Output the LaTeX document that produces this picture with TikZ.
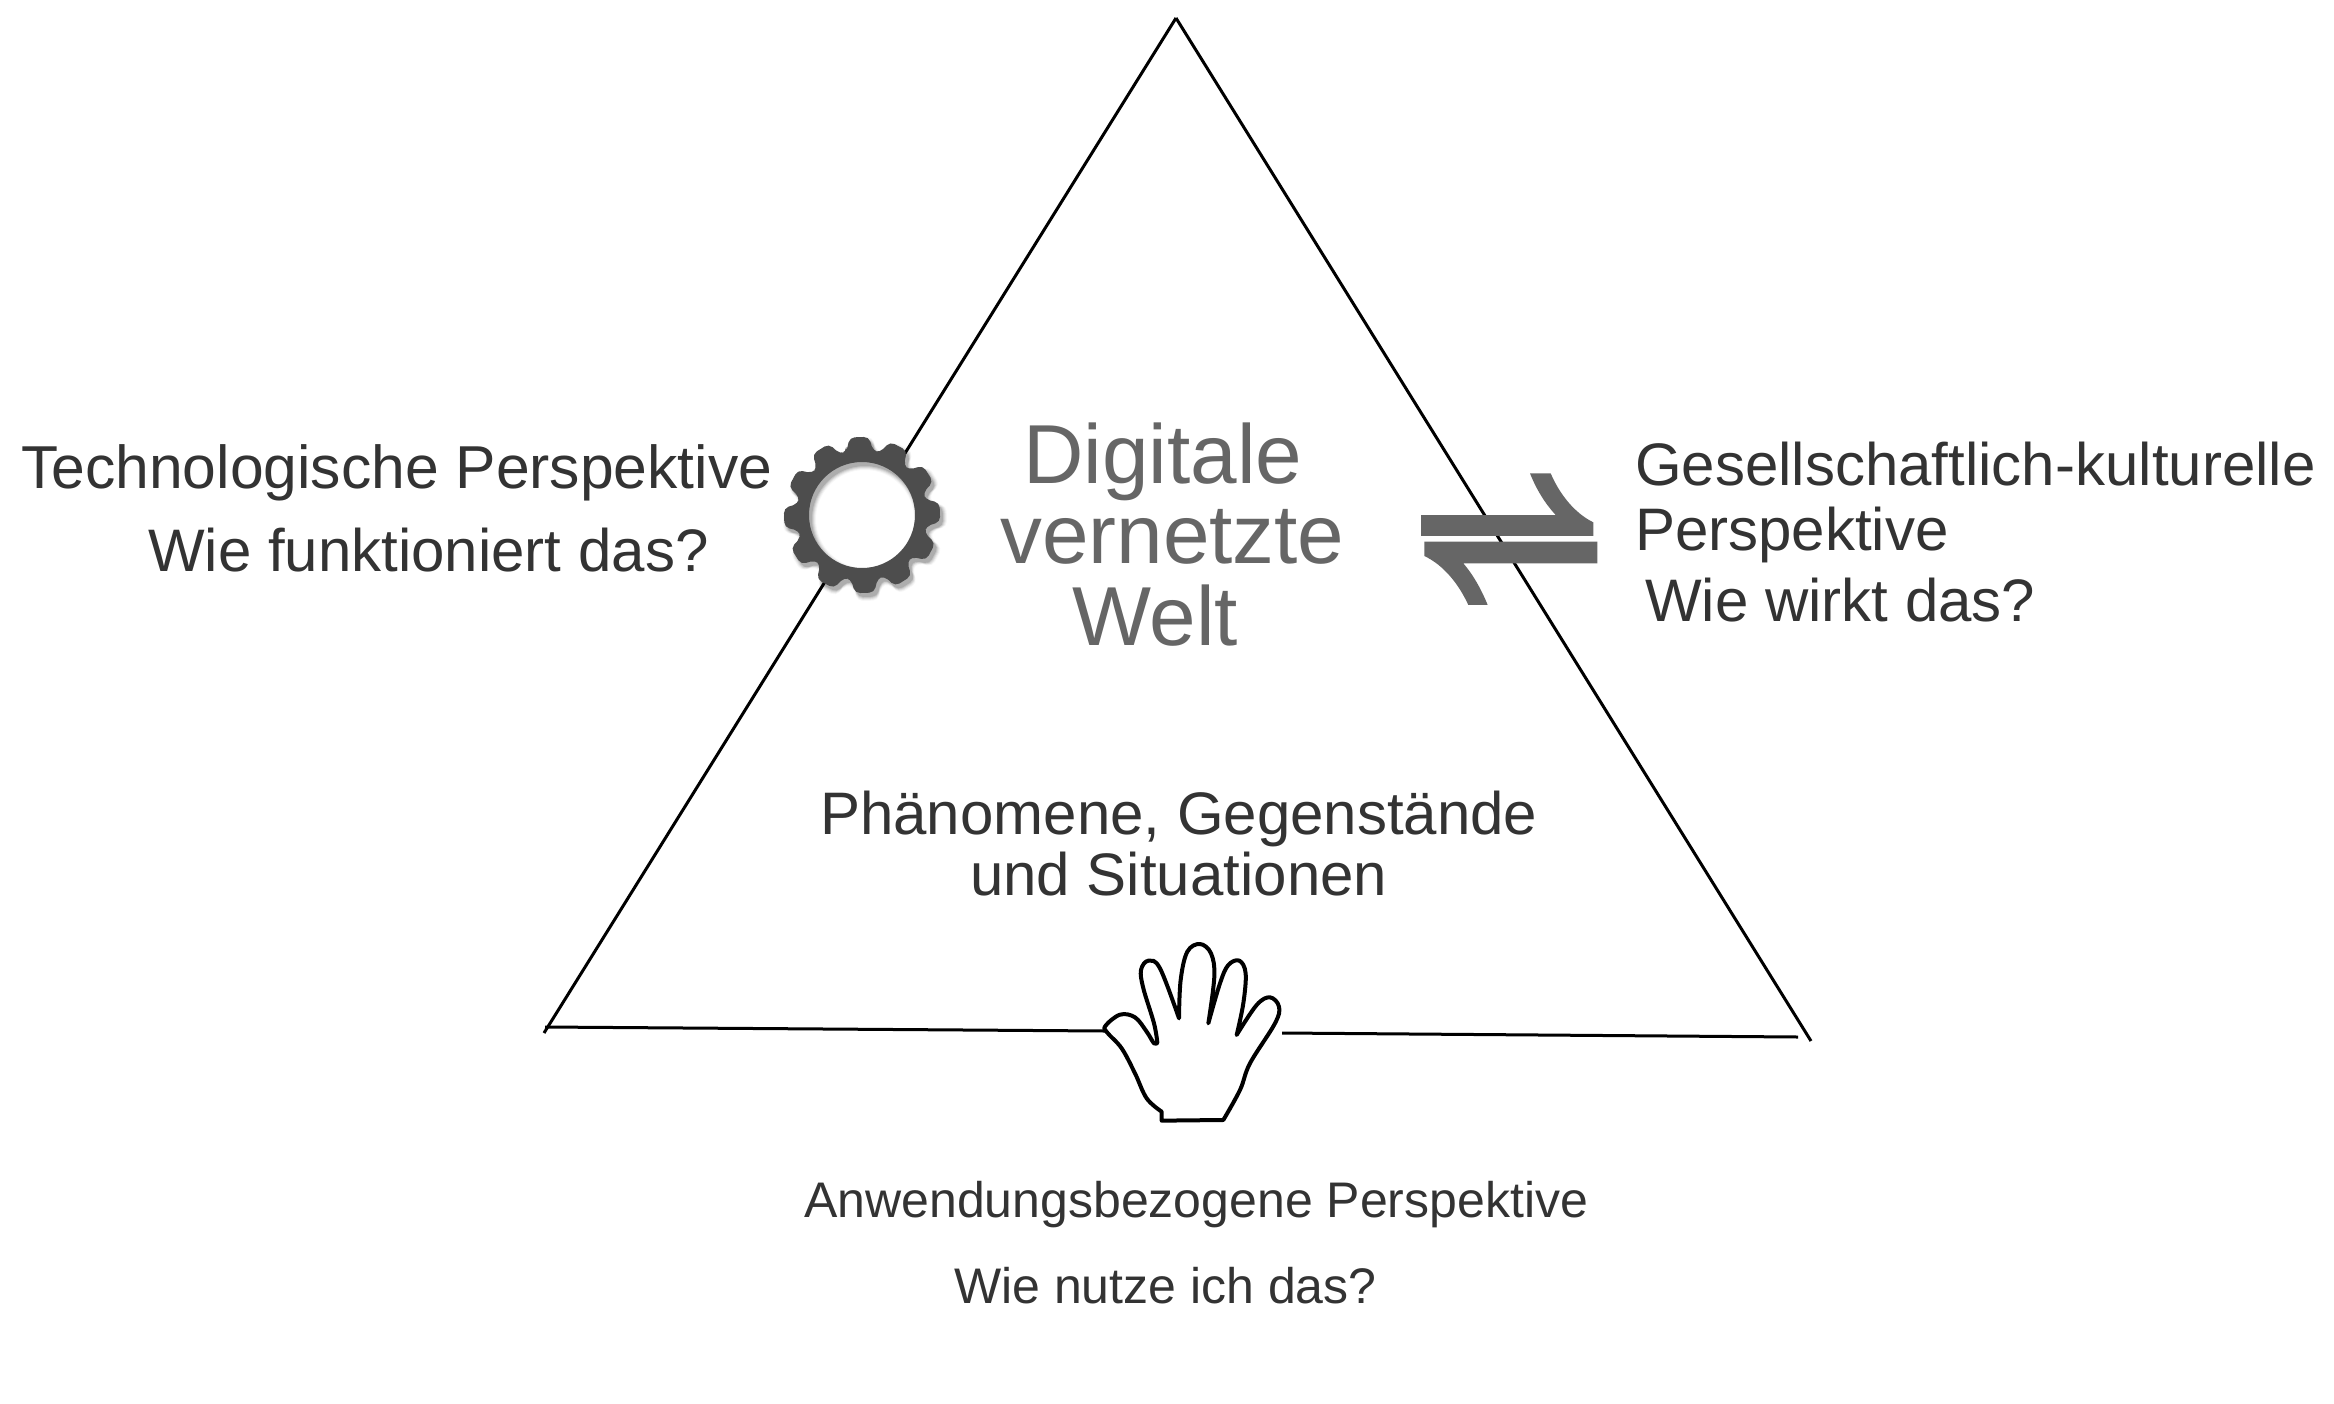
\documentclass[tikz,border=0pt]{standalone}
\usepackage{fontspec}
\setmainfont{Liberation Sans}
\definecolor{txt}{HTML}{333333}
\definecolor{midgray}{HTML}{666666}
\definecolor{geargray}{HTML}{4D4D4D}
\tikzset{
  tri/.style={draw=black,line width=3pt},
  lab/.style={anchor=base west,inner sep=0pt,text=txt,font=\fontsize{60}{60}\selectfont},
  labwide/.style={lab,font=\fontsize{60.6}{60}\selectfont},
  labsmall/.style={lab,font=\fontsize{50}{51}\selectfont},
  big/.style={anchor=base west,inner sep=0pt,text=midgray,font=\fontsize{83.7}{83}\selectfont},
  flowbar/.style={fill=midgray,draw=none},
  handline/.style={draw=black,line width=4pt,fill=white,line join=round},
}
\begin{document}
\begin{tikzpicture}[x=1pt,y=-1pt]
\useasboundingbox (0,0) rectangle (2334,1403);
\fill[white] (0,0) rectangle (2334,1403);
% triangle
\coordinate (apex) at (1176,18);
\coordinate (bl) at (544,1033);
\coordinate (br) at (1811,1041);
\coordinate (blb) at (545,1027);
\coordinate (handl) at (1105,1031);
\coordinate (handr) at (1282,1033);
\coordinate (brb) at (1798,1037);
\draw[tri] (apex) -- (bl);
\draw[tri] (apex) -- (br);
\draw[tri] (blb) -- (handl);
\draw[tri] (handr) -- (brb);
% gear
\fill[white] (862,515) circle (58);
\foreach \w/\op in {8/0.03,6/0.05,4/0.07,2/0.09,0/0.12}{
  \begin{scope}[shift={(865,519)}]
  \path[rounded corners=5pt,fill=black,fill opacity=\op,even odd rule]
    (-104:{65+\w/2}) \foreach \a in {-92,-62,...,238}{ -- (\a-12:{65+\w/2}) -- (\a-7:{78.5+\w/2}) -- (\a+7:{78.5+\w/2}) -- (\a+12:{65+\w/2})} -- cycle
    (0,0) circle ({53-\w/2});
  \end{scope}
}
\begin{scope}[shift={(862,515)}]
  \path[rounded corners=5pt,fill=geargray,even odd rule]
    (-104:65) \foreach \a in {-92,-62,...,238}{ -- (\a-12:65) -- (\a-7:78.5) -- (\a+7:78.5) -- (\a+12:65)} -- cycle
    (0,0) circle (53);
\end{scope}
% opposing flows symbol
\begin{scope}[shift={(1400,450)},x=0.3333pt,y=-0.3333pt]
  \fill[flowbar] (390,70) -- (452,70) .. controls (480,135) and (525,190) .. (580,217)
    -- (580,258) -- (63,258) -- (63,195) -- (467,195) .. controls (435,160) and (410,120) .. (390,70) -- cycle;
  \fill[flowbar] (73,275) -- (592,275) -- (592,340) -- (190,340) .. controls (220,375) and (245,420) .. (263,465)
    -- (205,465) .. controls (175,400) and (130,345) .. (73,318) -- cycle;
\end{scope}
% hand
\begin{scope}[shift={(1080,930)},x=0.3333pt,y=-0.3333pt]
  \draw[handline] (245,572) -- (245,545)
    -- plot[smooth,tension=0.6] coordinates {(245,545) (200,505) (165,430) (125,355) (82,308) (76,288) (120,254) (165,262) (200,305) (222,340) (232,338)}
    -- plot[smooth,tension=0.6] coordinates {(232,338) (222,280) (190,175) (183,120) (205,92) (240,115) (297,265)}
    -- plot[smooth,tension=0.6] coordinates {(297,265) (302,150) (322,65) (360,42) (393,70) (403,140) (385,280)}
    -- plot[smooth,tension=0.6] coordinates {(385,280) (420,160) (445,105) (478,92) (497,130) (490,220) (470,315)}
    -- plot[smooth,tension=0.6] coordinates {(470,315) (530,225) (570,202) (597,230) (585,280) (510,400) (480,480) (430,570)}
    -- cycle;
\end{scope}
% texts
\node[labwide] (tech) at (21,488) {Technologische Perspektive};
\node[lab] (techq) at (148,571) {Wie funktioniert das?};
\node[big] (w1) at (1023,483) {Digitale};
\node[big] (w2) at (1000,563) {vernetzte};
\node[big] (w3) at (1072,645) {Welt};
\node[lab] (ges1) at (1635,485) {Gesellschaftlich-kulturelle};
\node[lab] (ges2) at (1635,550) {Perspektive};
\node[lab] (gesq) at (1645,621) {Wie wirkt das?};
\node[lab] (ph1) at (820,834) {Phänomene, Gegenstände};
\node[lab] (ph2) at (970,895) {und Situationen};
\node[labsmall] (an) at (804,1217) {Anwendungsbezogene Perspektive};
\node[labsmall] (anq) at (954,1303) {Wie nutze ich das?};
\end{tikzpicture}
\end{document}
